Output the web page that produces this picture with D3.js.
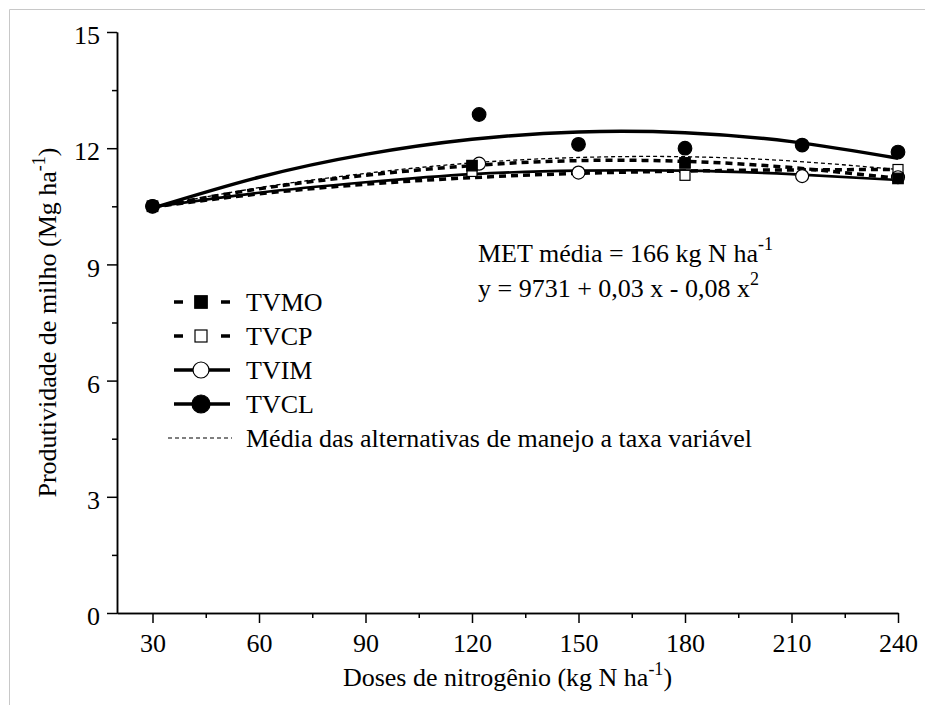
<!DOCTYPE html>
<html><head><meta charset="utf-8">
<script src="https://cdn.jsdelivr.net/npm/d3@7"></script>
<style>
body{margin:0;background:#fff}
svg{display:block}
</style>
</head><body><svg id="c" width="925" height="705"></svg>
<script>
// ---- data ----
const xTicks = [30, 60, 90, 120, 150, 180, 210, 240];
const yTicks = [0, 3, 6, 9, 12, 15];
const fitX    = [30, 60, 90, 120, 150, 180, 210, 240];
const fitTVMO = [10.48, 10.95, 11.30, 11.55, 11.68, 11.66, 11.50, 11.22];
const fitTVCP = [10.48, 10.82, 11.07, 11.24, 11.35, 11.41, 11.44, 11.45];
const fitTVIM = [10.48, 10.85, 11.12, 11.33, 11.42, 11.42, 11.33, 11.18];
const fitTVCL = [10.45, 11.25, 11.84, 12.23, 12.42, 12.40, 12.17, 11.74];
const fitMean = [10.48, 10.98, 11.35, 11.62, 11.76, 11.78, 11.67, 11.45];
const tvmoX = [30, 120, 180, 240], tvmoY = [10.5, 11.55, 11.62, 11.22];
const tvcpX = [30, 120, 180, 240], tvcpY = [10.5, 11.40, 11.30, 11.45];
const tvimX = [30, 122, 150, 213, 240], tvimY = [10.5, 11.60, 11.37, 11.28, 11.25];
const tvclX = [30, 122, 150, 180, 213, 240], tvclY = [10.5, 12.87, 12.10, 12.00, 12.08, 11.90];
const legendNames = ["TVMO", "TVCP", "TVIM", "TVCL"];
const meanLabel = "Média das alternativas de manejo a taxa variável";

// ---- layout ----
const FONT = "Liberation Serif";
const svg = d3.select("#c");
const FS = 26;
const x = d3.scaleLinear().domain([20, 240]).range([117, 898]);
const y = d3.scaleLinear().domain([0, 15]).range([613, 32]);

// frame border
svg.append("line").attr("x1", 9.5).attr("y1", 9.5).attr("x2", 925).attr("y2", 9.5).attr("stroke", "#c8c8c8");
svg.append("line").attr("x1", 9.5).attr("y1", 9.5).attr("x2", 9.5).attr("y2", 705).attr("stroke", "#c8c8c8");

// axes
const xMinor = d3.range(45, 240, 30);
const yMinor = d3.range(1.5, 15, 3);
const gx = svg.append("g").attr("transform", `translate(0,${y(0)})`);
gx.call(d3.axisBottom(x).tickValues(xTicks).tickSize(10).tickPadding(11).tickSizeOuter(0));
gx.append("g").call(d3.axisBottom(x).tickValues(xMinor).tickSize(5).tickFormat("").tickSizeOuter(0));
gx.attr("font-family", FONT).attr("font-size", FS);
gx.selectAll(".domain").attr("stroke", "#000").attr("stroke-width", 1.5);
gx.selectAll(".tick line").attr("stroke", "#000").attr("stroke-width", 1.5);
gx.selectAll(".tick text").attr("fill", "#000");

const gy = svg.append("g").attr("transform", `translate(${x(20)},0)`);
gy.call(d3.axisLeft(y).tickValues(yTicks).tickSize(10).tickPadding(7).tickSizeOuter(0));
gy.append("g").call(d3.axisLeft(y).tickValues(yMinor).tickSize(5).tickFormat("").tickSizeOuter(0));
gy.attr("font-family", FONT).attr("font-size", FS);
gy.selectAll(".domain").attr("stroke", "#000").attr("stroke-width", 1.5);
gy.selectAll(".tick line").attr("stroke", "#000").attr("stroke-width", 1.5);
gy.selectAll(".tick text").attr("fill", "#000").attr("dy", "0.45em");

// axis titles
const xt = svg.append("text").attr("x", (x(20) + x(240)) / 2).attr("y", 686)
  .attr("text-anchor", "middle").attr("font-family", FONT).attr("font-size", FS);
xt.append("tspan").text("Doses de nitrogênio (kg N ha");
xt.append("tspan").text("-1").attr("dy", -11).attr("font-size", 18);
xt.append("tspan").text(")").attr("dy", 11);

const yt = svg.append("text").attr("transform", "rotate(-90)")
  .attr("x", -(y(0) + y(15)) / 2).attr("y", 56)
  .attr("text-anchor", "middle").attr("font-family", FONT).attr("font-size", FS);
yt.append("tspan").text("Produtividade de milho (Mg ha");
yt.append("tspan").text("-1").attr("dy", -11).attr("font-size", 18);
yt.append("tspan").text(")").attr("dy", 11);

// fitted curves
const line = d3.line().x(d => x(d[0])).y(d => y(d[1])).curve(d3.curveNatural);
const fits = [
  {v: fitMean, w: 1.3, dash: "4,3"},
  {v: fitTVCP, w: 3.5, dash: "7,5"},
  {v: fitTVMO, w: 3.5, dash: "7,5"},
  {v: fitTVIM, w: 2.6, dash: null},
  {v: fitTVCL, w: 3.5, dash: null}
];
fits.forEach(f => {
  svg.append("path").attr("d", line(fitX.map((xx, i) => [xx, f.v[i]])))
    .attr("fill", "none").attr("stroke", "#000").attr("stroke-width", f.w)
    .attr("stroke-dasharray", f.dash);
});

// markers
function square(g, cx, cy, s, filled) {
  g.append("rect").attr("x", cx - s / 2).attr("y", cy - s / 2).attr("width", s).attr("height", s)
    .attr("fill", filled ? "#000" : "#fff").attr("stroke", "#000").attr("stroke-width", 1.2);
}
function circle(g, cx, cy, r, filled) {
  g.append("circle").attr("cx", cx).attr("cy", cy).attr("r", r)
    .attr("fill", filled ? "#000" : "#fff").attr("stroke", "#000").attr("stroke-width", 1.2);
}
tvcpX.forEach((v, i) => square(svg, x(v), y(tvcpY[i]), 10, false));
tvimX.forEach((v, i) => circle(svg, x(v), y(tvimY[i]), 6.5, false));
tvmoX.forEach((v, i) => square(svg, x(v), y(tvmoY[i]), 10.5, true));
tvclX.forEach((v, i) => circle(svg, x(v), y(tvclY[i]), 6.8, true));

// legend
const lg = svg.append("g").attr("font-family", FONT).attr("font-size", FS);
const rows = [302, 336, 370, 404];
const lx0 = 174, lx1 = 230, mx = 201;
rows.forEach((ry, i) => {
  const dashed = i < 2;
  lg.append("line").attr("x1", lx0).attr("x2", lx1).attr("y1", ry).attr("y2", ry)
    .attr("stroke", "#000").attr("stroke-width", 3.5)
    .attr("stroke-dasharray", dashed ? "9,38" : null);
  if (i === 0) square(lg, mx, ry, 12.5, true);
  if (i === 1) square(lg, mx, ry, 12, false);
  if (i === 2) circle(lg, mx, ry, 8, false);
  if (i === 3) circle(lg, mx, ry, 9, true);
  lg.append("text").attr("x", 246).attr("y", ry + 9).text(legendNames[i]);
});
lg.append("line").attr("x1", 168).attr("x2", 232).attr("y1", 438).attr("y2", 438)
  .attr("stroke", "#000").attr("stroke-width", 1.2).attr("stroke-dasharray", "4,3");
lg.append("text").attr("x", 246).attr("y", 447).text(meanLabel);

// annotation
const a1 = svg.append("text").attr("x", 478).attr("y", 262).attr("font-family", FONT).attr("font-size", FS);
a1.append("tspan").text("MET média = 166 kg N ha");
a1.append("tspan").text("-1").attr("dy", -12).attr("font-size", 18);
const a2 = svg.append("text").attr("x", 478).attr("y", 297).attr("font-family", FONT).attr("font-size", FS);
a2.append("tspan").text("y = 9731 + 0,03 x - 0,08 x");
a2.append("tspan").text("2").attr("dy", -12).attr("font-size", 18);
</script>
</body></html>
